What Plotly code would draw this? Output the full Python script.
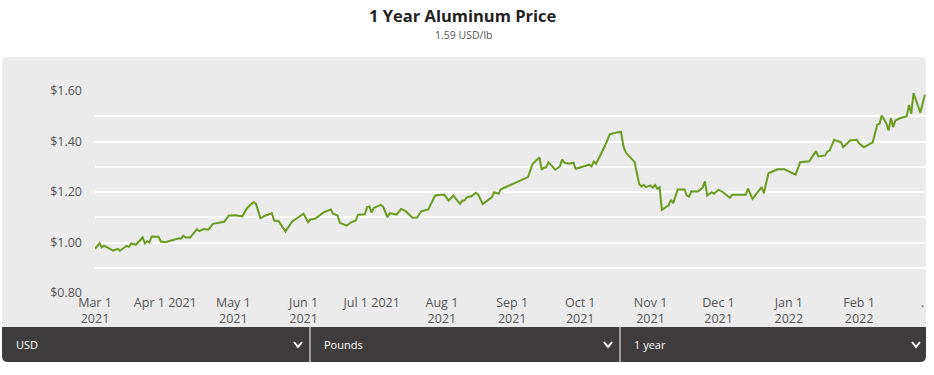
import plotly.graph_objects as go

# ---------------- data ----------------
dates = [
    "2021-03-01", "2021-03-03", "2021-03-04", "2021-03-05", "2021-03-07", "2021-03-09",
    "2021-03-11", "2021-03-12", "2021-03-15", "2021-03-16", "2021-03-17", "2021-03-19",
    "2021-03-22", "2021-03-23", "2021-03-24", "2021-03-25", "2021-03-26", "2021-03-29",
    "2021-03-30", "2021-04-01", "2021-04-04", "2021-04-07", "2021-04-08", "2021-04-09",
    "2021-04-10", "2021-04-12", "2021-04-15", "2021-04-16", "2021-04-18", "2021-04-20",
    "2021-04-22", "2021-04-27", "2021-04-29", "2021-05-02", "2021-05-05", "2021-05-07",
    "2021-05-10", "2021-05-11", "2021-05-13", "2021-05-15", "2021-05-18", "2021-05-19",
    "2021-05-21", "2021-05-24", "2021-05-27", "2021-05-30", "2021-06-01", "2021-06-03",
    "2021-06-04", "2021-06-06", "2021-06-10", "2021-06-13", "2021-06-14", "2021-06-16",
    "2021-06-17", "2021-06-20", "2021-06-22", "2021-06-24", "2021-06-25", "2021-06-28",
    "2021-06-29", "2021-06-30", "2021-07-01", "2021-07-02", "2021-07-05", "2021-07-06",
    "2021-07-07", "2021-07-08", "2021-07-09", "2021-07-12", "2021-07-14", "2021-07-16",
    "2021-07-19", "2021-07-21", "2021-07-23", "2021-07-26", "2021-07-29", "2021-08-02",
    "2021-08-04", "2021-08-06", "2021-08-09", "2021-08-10", "2021-08-11", "2021-08-12",
    "2021-08-14", "2021-08-16", "2021-08-17", "2021-08-19", "2021-08-21", "2021-08-23",
    "2021-08-24", "2021-08-26", "2021-08-27", "2021-09-08", "2021-09-10", "2021-09-13",
    "2021-09-14", "2021-09-15", "2021-09-16", "2021-09-17", "2021-09-20", "2021-09-22",
    "2021-09-23", "2021-09-24", "2021-09-26", "2021-09-28", "2021-09-29", "2021-10-01",
    "2021-10-05", "2021-10-06", "2021-10-07", "2021-10-08", "2021-10-11", "2021-10-12",
    "2021-10-14", "2021-10-17", "2021-10-19", "2021-10-20", "2021-10-21", "2021-10-25",
    "2021-10-27", "2021-10-28", "2021-10-29", "2021-10-30", "2021-11-01", "2021-11-02",
    "2021-11-03", "2021-11-04", "2021-11-05", "2021-11-06", "2021-11-09", "2021-11-10",
    "2021-11-11", "2021-11-13", "2021-11-16", "2021-11-17", "2021-11-18", "2021-11-19",
    "2021-11-22", "2021-11-24", "2021-11-25", "2021-11-26", "2021-11-28", "2021-11-29",
    "2021-12-01", "2021-12-03", "2021-12-06", "2021-12-07", "2021-12-13", "2021-12-14",
    "2021-12-16", "2021-12-18", "2021-12-20", "2021-12-21", "2021-12-23", "2021-12-27",
    "2021-12-30", "2022-01-04", "2022-01-06", "2022-01-10", "2022-01-13", "2022-01-14",
    "2022-01-17", "2022-01-18", "2022-01-19", "2022-01-21", "2022-01-24", "2022-01-25",
    "2022-01-28", "2022-01-31", "2022-02-01", "2022-02-03", "2022-02-05", "2022-02-07",
    "2022-02-09", "2022-02-10", "2022-02-11", "2022-02-13", "2022-02-14", "2022-02-15",
    "2022-02-16", "2022-02-17", "2022-02-19", "2022-02-22", "2022-02-23", "2022-02-24",
    "2022-02-25", "2022-02-28", "2022-03-02",
]
prices = [
    0.975, 0.997, 0.981, 0.987, 0.978, 0.968,
    0.975, 0.967, 0.987, 0.983, 0.996, 0.991,
    1.020, 0.997, 1.005, 1.000, 1.024, 1.023,
    1.004, 1.001, 1.009, 1.017, 1.015, 1.027,
    1.020, 1.020, 1.053, 1.045, 1.053, 1.051,
    1.074, 1.082, 1.107, 1.108, 1.103, 1.136,
    1.160, 1.153, 1.096, 1.106, 1.116, 1.087,
    1.084, 1.044, 1.083, 1.100, 1.114, 1.080,
    1.091, 1.094, 1.120, 1.131, 1.114, 1.107,
    1.078, 1.067, 1.080, 1.087, 1.110, 1.112,
    1.140, 1.143, 1.119, 1.137, 1.149, 1.143,
    1.120, 1.100, 1.116, 1.110, 1.133, 1.124,
    1.098, 1.099, 1.124, 1.131, 1.186, 1.190,
    1.166, 1.186, 1.153, 1.166, 1.166, 1.179,
    1.183, 1.197, 1.190, 1.153, 1.166, 1.179,
    1.199, 1.193, 1.211, 1.259, 1.312, 1.337,
    1.288, 1.296, 1.298, 1.318, 1.288, 1.301,
    1.329, 1.316, 1.312, 1.316, 1.292, 1.298,
    1.308, 1.301, 1.321, 1.312, 1.367, 1.384,
    1.428, 1.436, 1.438, 1.384, 1.358, 1.318,
    1.232, 1.222, 1.228, 1.219, 1.226, 1.217,
    1.228, 1.213, 1.219, 1.129, 1.147, 1.169,
    1.156, 1.210, 1.210, 1.186, 1.182, 1.203,
    1.202, 1.217, 1.242, 1.186, 1.199, 1.193,
    1.209, 1.199, 1.177, 1.189, 1.189, 1.213,
    1.173, 1.195, 1.219, 1.195, 1.274, 1.290,
    1.290, 1.269, 1.318, 1.322, 1.362, 1.341,
    1.345, 1.360, 1.364, 1.407, 1.397, 1.377,
    1.404, 1.407, 1.393, 1.377, 1.387, 1.397,
    1.466, 1.470, 1.503, 1.472, 1.444, 1.492,
    1.457, 1.483, 1.492, 1.500, 1.545, 1.510,
    1.592, 1.514, 1.585,
]
tick_dates = ["2021-03-01", "2021-04-01", "2021-05-01", "2021-06-01", "2021-07-01",
              "2021-08-01", "2021-09-01", "2021-10-01", "2021-11-01", "2021-12-01",
              "2022-01-01", "2022-02-01", "2022-03-01"]
tick_labels = ["Mar 1<br>2021", "Apr 1 2021", "May 1<br>2021", "Jun 1<br>2021", "Jul 1 2021",
               "Aug 1<br>2021", "Sep 1<br>2021", "Oct 1<br>2021", "Nov 1<br>2021",
               "Dec 1<br>2021", "Jan 1<br>2022", "Feb 1<br>2022", "."]
title_text = "1 Year Aluminum Price"
subtitle_text = "1.59 USD/lb"
selectors = ["USD", "Pounds", "1 year"]

# ---------------- layout geometry (pixels) ----------------
W, H = 934, 375
L, R, T, B = 95, 8, 91, 82
PW, PH = W - L - R, H - T - B


def px(x):
    return (x - L) / PW


def py(y):
    return (H - B - y) / PH


def rounded_path(x0, y0, x1, y1, r_top, r_bot):
    pts = []
    pts.append(f"M {px(x0 + r_top)},{py(y0)}")
    pts.append(f"L {px(x1 - r_top)},{py(y0)}")
    pts.append(f"Q {px(x1)},{py(y0)} {px(x1)},{py(y0 + r_top)}")
    pts.append(f"L {px(x1)},{py(y1 - r_bot)}")
    pts.append(f"Q {px(x1)},{py(y1)} {px(x1 - r_bot)},{py(y1)}")
    pts.append(f"L {px(x0 + r_bot)},{py(y1)}")
    pts.append(f"Q {px(x0)},{py(y1)} {px(x0)},{py(y1 - r_bot)}")
    pts.append(f"L {px(x0)},{py(y0 + r_top)}")
    pts.append(f"Q {px(x0)},{py(y0)} {px(x0 + r_top)},{py(y0)}")
    return " ".join(pts) + " Z"


FONT = "Open Sans"

fig = go.Figure()
fig.add_trace(go.Scatter(
    x=dates, y=prices, mode="lines",
    line=dict(color="#6b9b1f", width=2),
    hoverinfo="skip", showlegend=False,
))

shapes = [
    dict(type="path", xref="paper", yref="paper", layer="below",
         path=rounded_path(2, 57, 926, 362, 6, 6),
         fillcolor="#ebebeb", line=dict(width=0)),
    dict(type="path", xref="paper", yref="paper", layer="above",
         path=rounded_path(2, 327, 926, 362, 0, 6),
         fillcolor="#3e3c3d", line=dict(width=0)),
]
for xs in (310, 620):
    shapes.append(dict(type="line", xref="paper", yref="paper", layer="above",
                       x0=px(xs), x1=px(xs), y0=py(327), y1=py(362),
                       line=dict(color="#ffffff", width=1)))
for cx in (298, 608, 916):
    shapes.append(dict(type="path", xref="paper", yref="paper", layer="above",
                       path=f"M {px(cx - 4)},{py(342)} L {px(cx)},{py(347)} L {px(cx + 4)},{py(342)}",
                       line=dict(color="#ffffff", width=2)))

annotations = [
    dict(text=f"<b>{title_text}</b>", x=px(463), y=py(16), xref="paper", yref="paper",
         showarrow=False, xanchor="center", yanchor="middle",
         font=dict(family=FONT, size=16.5, color="#222222")),
    dict(text=subtitle_text, x=px(463), y=py(35), xref="paper", yref="paper",
         showarrow=False, xanchor="center", yanchor="middle",
         font=dict(family=FONT, size=10.5, color="#555555")),
]
for label, lx in zip(selectors, (14, 322, 632)):
    annotations.append(dict(text=label, x=px(lx), y=py(344.5), xref="paper", yref="paper",
                            showarrow=False, xanchor="left", yanchor="middle",
                            font=dict(family=FONT, size=11, color="#ffffff")))

fig.update_layout(
    width=W, height=H,
    margin=dict(l=L, r=R, t=T, b=B, pad=0),
    paper_bgcolor="#ffffff",
    plot_bgcolor="rgba(0,0,0,0)",
    shapes=shapes,
    annotations=annotations,
    showlegend=False,
    xaxis=dict(
        type="date",
        range=["2021-03-01", "2022-03-02 12:00"],
        tickvals=tick_dates, ticktext=tick_labels,
        showgrid=False, zeroline=False, showline=False,
        ticks="", tickfont=dict(family=FONT, size=12.5, color="#555555"),
        fixedrange=True,
    ),
    yaxis=dict(
        range=[0.8, 1.6],
        tick0=0.8, dtick=0.2,
        tickprefix="$", tickformat=".2f",
        showgrid=True, gridcolor="#ffffff", gridwidth=1.5,
        minor=dict(dtick=0.1, tick0=0.8, showgrid=True, gridcolor="#ffffff", gridwidth=1.5),
        zeroline=False, showline=False, ticks="",
        ticklabelstandoff=12,
        tickfont=dict(family=FONT, size=12.5, color="#555555"),
        fixedrange=True,
    ),
)

fig.write_html("out.html", config={"displayModeBar": False},
               post_script="document.body.style.margin='0px';document.body.style.padding='0px';")
